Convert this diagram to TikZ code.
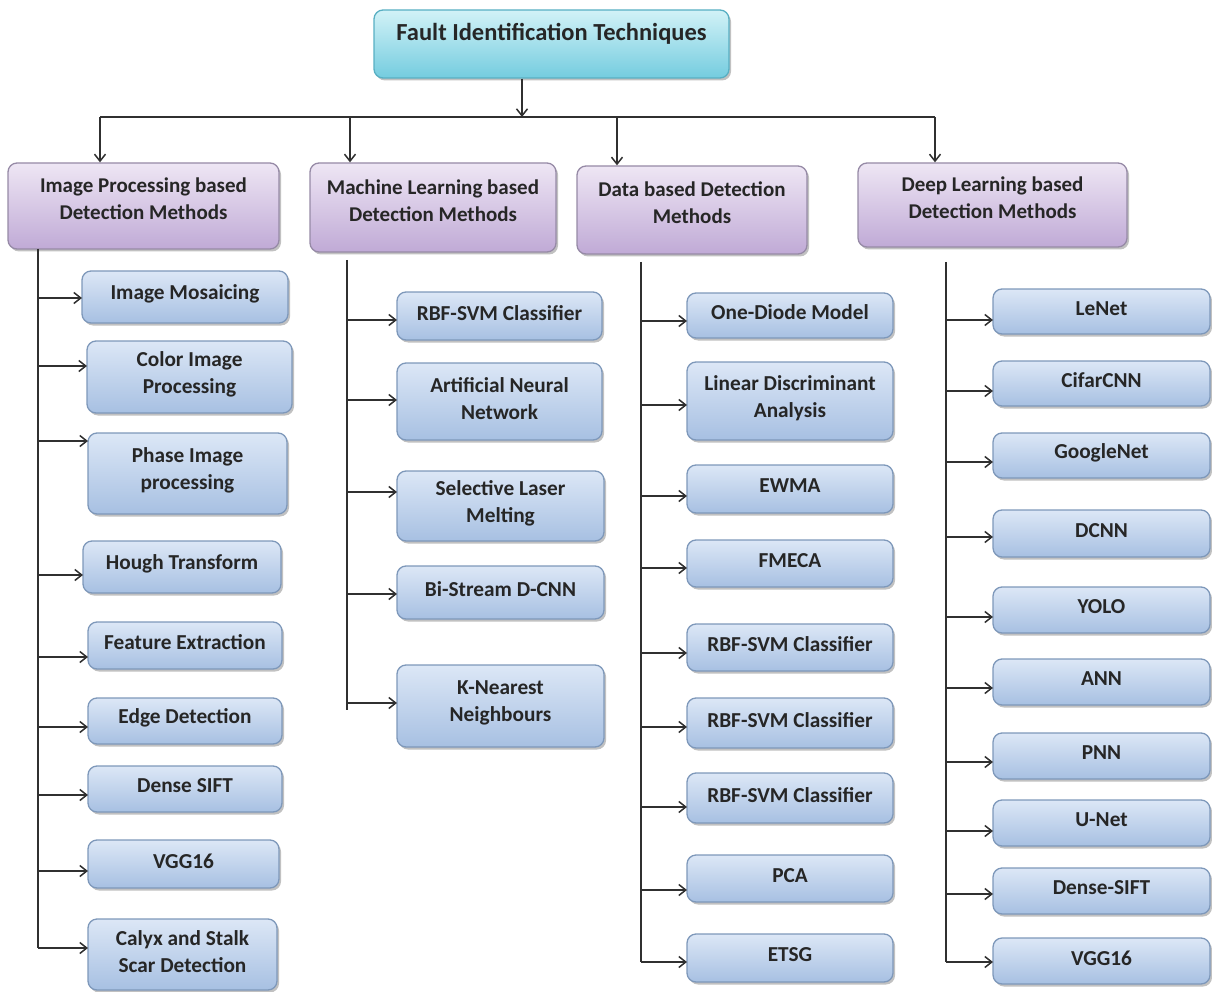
\documentclass[tikz,border=0pt]{standalone}
\usepackage{fontspec}
\setmainfont{Carlito}
\usetikzlibrary{arrows.meta,shadows}

\definecolor{kidtop}{HTML}{DCE7F6}
\definecolor{kidbot}{HTML}{A7C0E2}
\definecolor{kidline}{HTML}{7E98BA}
\definecolor{cattop}{HTML}{EEE6F4}
\definecolor{catbot}{HTML}{C0AAD6}
\definecolor{catline}{HTML}{968AA6}
\definecolor{roottop}{HTML}{D2F2F7}
\definecolor{rootbot}{HTML}{74CCDF}
\definecolor{rootline}{HTML}{58AFC3}
\definecolor{txt}{HTML}{262626}
\definecolor{wirec}{HTML}{303030}

\tikzset{
  box/.style={rounded corners=9pt, line width=1.3pt, inner sep=0pt,
    drop shadow={shadow xshift=2pt, shadow yshift=-2.5pt, opacity=0.35, fill=black!70}},
  kidbox/.style={box, draw=kidline, top color=kidtop, bottom color=kidbot},
  catbox/.style={box, draw=catline, top color=cattop, bottom color=catbot},
  rootbox/.style={box, draw=rootline, top color=roottop, bottom color=rootbot},
  lbl/.style={font=\fontsize{21.3}{27}\selectfont\bfseries, text=txt, align=center},
  catlbl/.style={lbl, font=\fontsize{21}{27}\selectfont\bfseries},
  rootlbl/.style={lbl, font=\fontsize{24.5}{30}\selectfont\bfseries},
  wire/.style={draw=wirec, line width=1.5pt},
  arr/.style={wire, -{Straight Barb[length=7pt,width=11pt,line width=1.5pt]}}
}

% #1 style, #2 label options, #3 name, #4-#7 corners (x1,y1,x2,y2), #8 text
\newcommand\bx[8]{%
  \node[#1, minimum width={(#6-#4)*1pt}, minimum height={(#7-#5)*1pt},
        label={[#2]center:#8}] (#3) at ({(#4+#6)/2},{(#5+#7)/2}) {};}
% #1 name, #2-#5 corners, #6 arrow height, #7 text, #8 trunk coordinate
\newcommand\kid[8]{%
  \bx{kidbox}{lbl,yshift=3pt}{#1}{#2}{#3}{#4}{#5}{#7}
  \coordinate (#1-in) at (#2,#6);
  \draw[arr] (#8 |- #1-in) -- (#1-in);}

\begin{document}
\begin{tikzpicture}[x=1pt,y=-1pt]
\useasboundingbox (0,0) rectangle (1212,992);

% root and the bus below it
\bx{rootbox}{rootlbl,yshift=10pt}{root}{374}{10}{729}{78}{Fault Identification Techniques}
\coordinate (bus) at (522,117);
\coordinate (busL) at (100,117);
\coordinate (busR) at (935,117);
\coordinate (busB) at (350,117);
\coordinate (busC) at (617,117);
\draw[arr] (root.south -| bus) -- (bus);
\draw[wire] (busL) -- (busR);

% categories
\bx{catbox}{catlbl,yshift=7pt}{c1}{8}{163}{279}{249}{Image Processing based\\Detection Methods}
\bx{catbox}{catlbl,yshift=7pt}{c2}{310}{163}{556}{252}{Machine Learning based\\Detection Methods}
\bx{catbox}{catlbl,yshift=7pt}{c3}{577}{166}{807}{254}{Data based Detection\\Methods}
\bx{catbox}{catlbl,yshift=7pt}{c4}{858}{163}{1127}{247}{Deep Learning based\\Detection Methods}
\draw[arr] (busL) -- (c1.north -| busL);
\draw[arr] (busB) -- (c2.north -| busB);
\draw[arr] (busC) -- (c3.north -| busC);
\draw[arr] (busR) -- (c4.north -| busR);

% trunks
\coordinate (t1) at (38,249);
\coordinate (t2) at (347,260);
\coordinate (t3) at (641,262);
\coordinate (t4) at (946,262);

% image processing
\kid{a1}{82}{271}{288}{323}{298}{Image Mosaicing}{t1}
\kid{a2}{87}{341}{292}{413}{366}{Color Image\\Processing}{t1}
\kid{a3}{88}{433}{287}{514}{441}{Phase Image\\processing}{t1}
\kid{a4}{83}{541}{281}{593}{575}{Hough Transform}{t1}
\kid{a5}{88}{622}{282}{669}{657}{Feature Extraction}{t1}
\kid{a6}{88}{698}{282}{744}{727}{Edge Detection}{t1}
\kid{a7}{88}{766}{282}{812}{795}{Dense SIFT}{t1}
\kid{a8}{88}{840}{279}{888}{871}{VGG16}{t1}
\kid{a9}{88}{919}{277}{990}{948}{Calyx and Stalk\\Scar Detection}{t1}
\draw[wire] (t1) -- (t1 |- a9-in);

% machine learning
\kid{b1}{397}{292}{602}{340}{320}{RBF-SVM Classifier}{t2}
\kid{b2}{397}{363}{602}{440}{400}{Artificial Neural\\Network}{t2}
\kid{b3}{397}{471}{604}{541}{492}{Selective Laser\\Melting}{t2}
\kid{b4}{397}{566}{604}{619}{594}{Bi-Stream D-CNN}{t2}
\kid{b5}{397}{665}{604}{747}{703}{K-Nearest\\Neighbours}{t2}
\coordinate (t2end) at (347,710);
\draw[wire] (t2) -- (t2end);

% data based
\kid{d1}{687}{293}{893}{338}{321}{One-Diode Model}{t3}
\kid{d2}{687}{362}{893}{440}{405}{Linear Discriminant\\Analysis}{t3}
\kid{d3}{687}{465}{893}{513}{496}{EWMA}{t3}
\kid{d4}{687}{540}{893}{587}{568}{FMECA}{t3}
\kid{d5}{687}{624}{893}{671}{653}{RBF-SVM Classifier}{t3}
\kid{d6}{687}{698}{893}{748}{727}{RBF-SVM Classifier}{t3}
\kid{d7}{687}{773}{893}{823}{807}{RBF-SVM Classifier}{t3}
\kid{d8}{687}{855}{893}{902}{890}{PCA}{t3}
\kid{d9}{687}{934}{893}{982}{962}{ETSG}{t3}
\draw[wire] (t3) -- (t3 |- d9-in);

% deep learning
\kid{e1}{993}{289}{1210}{334}{320}{LeNet}{t4}
\kid{e2}{993}{361}{1210}{406}{391}{CifarCNN}{t4}
\kid{e3}{993}{433}{1210}{478}{462}{GoogleNet}{t4}
\kid{e4}{993}{510}{1210}{557}{537}{DCNN}{t4}
\kid{e5}{993}{587}{1210}{633}{617}{YOLO}{t4}
\kid{e6}{993}{659}{1210}{705}{688}{ANN}{t4}
\kid{e7}{993}{733}{1210}{779}{762}{PNN}{t4}
\kid{e8}{993}{800}{1210}{846}{831}{U-Net}{t4}
\kid{e9}{993}{868}{1210}{914}{894}{Dense-SIFT}{t4}
\kid{e10}{993}{938}{1210}{984}{962}{VGG16}{t4}
\draw[wire] (t4) -- (t4 |- e10-in);
\end{tikzpicture}
\end{document}
